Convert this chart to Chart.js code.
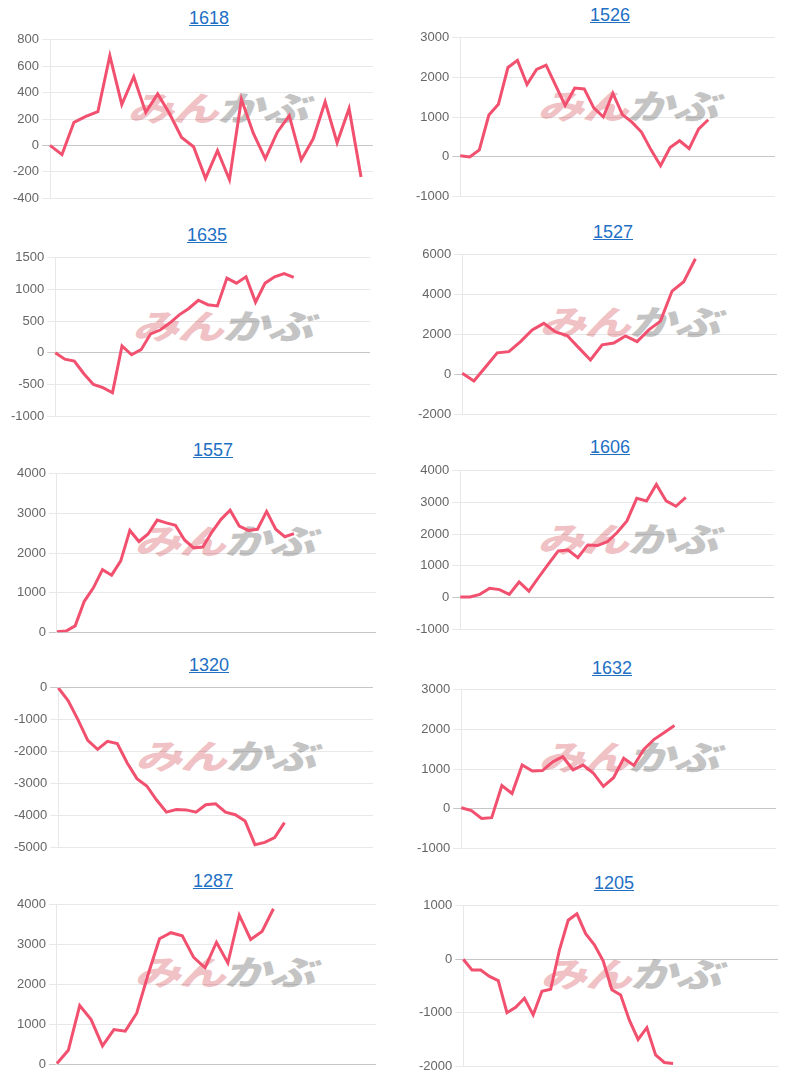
<!DOCTYPE html>
<html><head><meta charset="utf-8">
<script src="https://cdn.jsdelivr.net/npm/chart.js@4.4.1/dist/chart.umd.min.js"></script>
<style>
body{margin:0;background:#fff;width:800px;height:1080px;position:relative;overflow:hidden;font-family:"Liberation Sans",Arial,sans-serif}
.t{position:absolute;color:#2270c4;text-decoration:underline;font-size:18px;line-height:1;transform:translate(-50%,-50%);white-space:nowrap}
.wm{position:absolute;font-family:"Noto Sans CJK JP";font-weight:900;font-size:34px;line-height:1;white-space:nowrap;transform-origin:left center;transform:scaleX(1.36) skewX(-14deg);letter-spacing:-1px}
.wm .a{color:#f0c2c5}.wm .b{color:#c4c4c4}
canvas{position:absolute}
</style></head><body>
<script>
// ---- data ----
const titles = ["1618","1526","1635","1527","1557","1606","1320","1632","1287","1205"];
const labelCounts = [28,34,34,28,36,33,33,32,29,37];
const yMin  = [-400,-1000,-1000,-2000,0,-1000,-5000,-1000,0,-2000];
const yMax  = [800,3000,1500,6000,4000,4000,0,3000,4000,1000];
const yStep = [200,1000,500,2000,1000,1000,1000,1000,1000,1000];

const s1618 = [0,-70,175,220,255,680,310,520,250,390,240,60,-10,-250,-40,-260,350,90,-100,100,225,-110,50,330,20,280,-240];
const s1526 = [20,-10,170,1050,1320,2250,2430,1820,2200,2310,1800,1290,1730,1710,1230,1000,1600,1060,870,620,170,-230,230,400,200,700,930];
const s1635 = [0,-100,-130,-330,-500,-550,-630,110,-30,50,300,360,470,600,700,830,760,740,1180,1100,1200,800,1100,1200,1250,1190];
const s1527 = [50,-330,370,1080,1140,1640,2230,2560,2130,1950,1330,720,1480,1570,1930,1640,2230,2670,4180,4650,5800];
const s1557 = [10,30,160,780,1120,1580,1440,1800,2570,2290,2480,2830,2760,2700,2330,2130,2150,2530,2850,3080,2680,2570,2600,3050,2600,2410,2490];
const s1606 = [20,20,100,290,250,100,490,200,640,1060,1470,1500,1260,1660,1640,1760,2050,2420,3130,3050,3570,3050,2880,3160];
const s1320 = [0,-400,-1000,-1650,-1930,-1680,-1750,-2350,-2850,-3080,-3520,-3900,-3820,-3830,-3900,-3670,-3640,-3900,-3980,-4180,-4920,-4850,-4700,-4230];
const s1632 = [20,-50,-250,-230,580,380,1100,950,960,1180,1310,980,1100,900,560,780,1270,1090,1500,1750,1920,2100];
const s1287 = [20,350,1470,1120,460,870,830,1280,2250,3150,3300,3220,2680,2420,3060,2540,3740,3130,3330,3900];
const s1205 = [0,-200,-200,-320,-400,-1000,-900,-730,-1040,-600,-560,170,730,850,480,270,-30,-570,-670,-1140,-1500,-1280,-1790,-1930,-1950];
const series = [s1618,s1526,s1635,s1527,s1557,s1606,s1320,s1632,s1287,s1205];

// ---- layout (page pixels) ----
const plotBoxes = [ // left, right, top, bottom of plot area
  [50,373,40,198.5],[460,775,38.3,196.7],
  [55,370,257.7,416],[462.3,776.7,254.3,413.3],
  [57.3,376.7,473.3,631.7],[460,774,470.7,629],
  [58.3,373.3,687.7,846.7],[461,775.7,689.3,847.3],
  [57.3,376.7,904.3,1064],[463.3,778.3,905.7,1065.7]
];
const titlePos = [[209,17.5],[610,15],[207,235],[613,231.7],[213,450],[610,447],[209,665],[612,667.7],[213,880.7],[614,882.7]];
const LINE = '#f2506f';

function config(i){
  const labels = Array.from({length: labelCounts[i]}, (_, k) => String(k + 1));
  return {
    type:'line',
    data:{labels, datasets:[{data:series[i], borderColor:LINE, borderWidth:3, pointRadius:0, pointHoverRadius:0, fill:false, tension:0, borderJoinStyle:'miter'}]},
    options:{
      responsive:false, animation:false, events:[],
      plugins:{legend:{display:false}, tooltip:{enabled:false}, title:{display:false}},
      layout:{padding:0},
      scales:{
        x:{display:false},
        y:{min:yMin[i], max:yMax[i],
           ticks:{stepSize:yStep[i], color:'#666', font:{size:13, family:'"Liberation Sans", Arial, sans-serif'}, callback:v=>String(v)},
           grid:{color:ctx=>(ctx.tick && ctx.tick.value===0)?'rgba(0,0,0,0.22)':'rgba(0,0,0,0.09)'},
           border:{color:'rgba(0,0,0,0.09)'}}
      }
    }
  };
}

function build(i){
  const [L,R,T,B] = plotBoxes[i];
  // watermark
  const wm = document.createElement('div');
  wm.className='wm';
  wm.innerHTML='<span class="a">みん</span><span class="b">かぶ</span>';
  wm.style.left=(L+82)+'px'; wm.style.top=(T+50)+'px';
  document.body.appendChild(wm);
  // measure pass
  const W0=400,H0=200;
  let c = document.createElement('canvas');
  c.width=W0; c.height=H0; c.style.width=W0+'px'; c.style.height=H0+'px';
  c.style.left='0px'; c.style.top='0px';
  document.body.appendChild(c);
  let ch = new Chart(c, config(i));
  const ca = ch.chartArea;
  const padL=ca.left, padT=ca.top, padR=W0-ca.right, padB=H0-ca.bottom;
  ch.destroy(); c.remove();
  // final pass
  const W=Math.round((R-L)+padL+padR), H=Math.round((B-T)+padT+padB);
  c = document.createElement('canvas');
  c.width=W; c.height=H; c.style.width=W+'px'; c.style.height=H+'px';
  c.style.left=Math.round(L-padL)+'px'; c.style.top=Math.round(T-padT)+'px';
  document.body.appendChild(c);
  new Chart(c, config(i));
  // title
  const t=document.createElement('a');
  t.className='t'; t.textContent=titles[i];
  t.style.left=titlePos[i][0]+'px'; t.style.top=titlePos[i][1]+'px';
  document.body.appendChild(t);
}
for(let i=0;i<10;i++) build(i);
</script>
</body></html>
